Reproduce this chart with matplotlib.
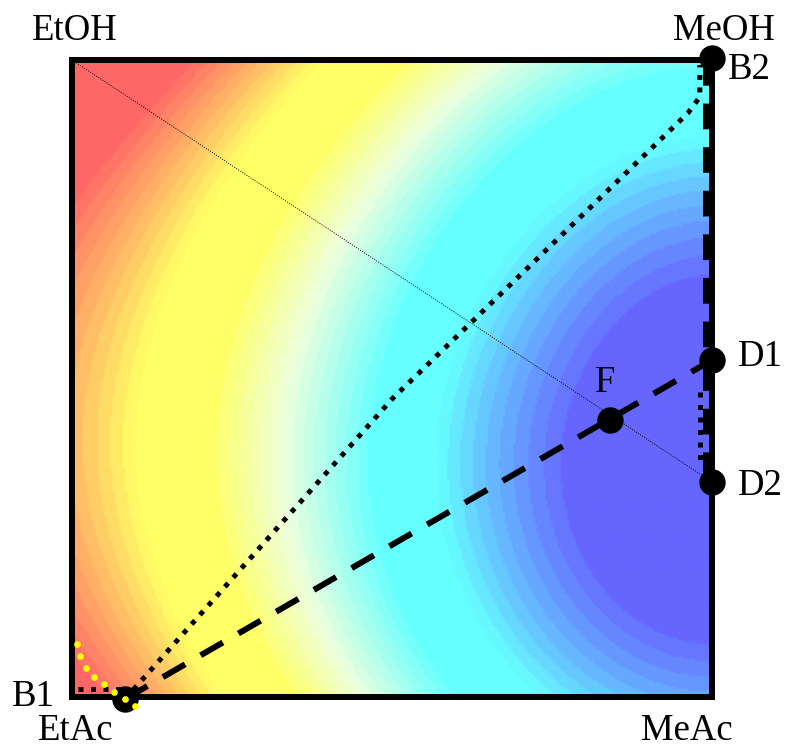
#!/usr/bin/env python3
import numpy as np
import matplotlib
matplotlib.use("Agg")
import matplotlib.pyplot as plt
from matplotlib.colors import LinearSegmentedColormap

# background level, 7x7 grid
# rows: top (alcohols) -> bottom (acetates), cols: left (Et) -> right (Me)
field_rows = [
    [1.15, 0.97, 0.82, 0.72, 0.45, 0.33, 0.33],
    [1.02, 0.84, 0.75, 0.55, 0.30, 0.25, 0.22],
    [0.92, 0.77, 0.60, 0.33, 0.25, 0.15, 0.03],
    [0.85, 0.75, 0.40, 0.25, 0.07, -0.10, -0.10],
    [0.86, 0.76, 0.48, 0.27, 0.15, -0.05, -0.10],
    [0.93, 0.78, 0.60, 0.30, 0.22, 0.10, 0.00],
    [1.03, 0.82, 0.64, 0.40, 0.27, 0.15, 0.05],
]
level_stops = [0.0, 0.2, 0.32, 0.5, 0.64, 0.78, 1.0]
level_colors = ["#6666ff", "#66ffff", "#66ffff", "#eeffdd", "#ffff66", "#ffff66", "#ff6666"]

corner_names = ["EtOH", "MeOH", "EtAc", "MeAc"]
corner_x = [0.005, 1.019, 0.006, 0.961]
corner_y = [1.031, 1.031, -0.068, -0.068]

point_names = ["B1", "B2", "D1", "D2", "F"]
point_x = [0.083, 1.0, 1.0, 1.0, 0.841]
point_y = [-0.003, 1.003, 0.529, 0.3375, 0.435]
label_x = [-0.061, 1.025, 1.041, 1.041, 0.833]
label_y = [-0.014, 0.970, 0.520, 0.317, 0.479]

# column profile (dotted) from B1 up to B2
profile_x = [0.083, 0.5016, 0.9625, 0.981, 0.981]
profile_y = [-0.003, 0.4694, 0.9168, 0.942, 0.992]

# short dotted pieces
b1_tail_x = [0.01, 0.083]
b1_tail_y = [0.0126, 0.0126]
d_tail_x = [0.981, 0.981]
d_tail_y = [0.479, 0.361]

# dashed right edge B2 -> D2
edge_x = [0.99, 0.99]
edge_y = [1.0, 0.3375]

# yellow dotted curve near B1
yellow_x = [0.0078, 0.0125, 0.0219, 0.0344, 0.05, 0.0656, 0.0828, 0.098]
yellow_y = [0.083, 0.064, 0.0455, 0.0314, 0.0204, 0.0078, -0.0031, -0.0141]


def smooth_field(rows, n=300, deg=3):
    """least-squares cubic surface through the grid readings"""
    grid = np.array(rows)
    k = grid.shape[0]
    u, v = np.meshgrid(np.linspace(0, 1, k), np.linspace(1, 0, k))
    terms = [(i, j) for i in range(deg + 1) for j in range(deg + 1 - i)]
    A = np.column_stack([u.ravel() ** i * v.ravel() ** j for i, j in terms])
    coef, *_ = np.linalg.lstsq(A, grid.ravel(), rcond=None)
    uu, vv = np.meshgrid(np.linspace(0, 1, n), np.linspace(1, 0, n))
    out = np.zeros_like(uu)
    for c, (i, j) in zip(coef, terms):
        out += c * uu ** i * vv ** j
    return out


def main():
    fig = plt.figure(figsize=(7.87, 7.49), dpi=100)
    ax = fig.add_axes([72 / 787, 52 / 749, 640 / 787, 637 / 749])

    cmap = LinearSegmentedColormap.from_list("bg", list(zip(level_stops, level_colors)), N=48)
    ax.imshow(smooth_field(field_rows), cmap=cmap, vmin=0, vmax=1,
              interpolation="bilinear", extent=(0, 1, 0, 1), origin="upper",
              aspect="auto", zorder=0)
    ax.set_xlim(0, 1)
    ax.set_ylim(0, 1)
    ax.set_xticks([])
    ax.set_yticks([])
    for sp in ax.spines.values():
        sp.set_linewidth(4.3)
        sp.set_color("black")

    # thin feed line EtOH -> D2
    ax.plot([0, point_x[3]], [1, point_y[3]], color="black", lw=0.7,
            linestyle=(0, (1, 1.5)), zorder=2)
    # dashed B1 -> F -> D1
    ax.plot([point_x[0], point_x[2]], [point_y[0], point_y[2]], color="black",
            lw=4.3, linestyle=(0, (4.3, 3.0)), zorder=3)
    ax.plot(edge_x, edge_y, color="black", lw=4.3, linestyle=(0, (4.3, 3.0)), zorder=3)

    dot = (0, (1, 1.5))
    ax.plot(profile_x, profile_y, color="black", lw=3.6, linestyle=dot, zorder=3)
    ax.plot(b1_tail_x, b1_tail_y, color="black", lw=3.6, linestyle=dot, zorder=3)
    ax.plot(d_tail_x, d_tail_y, color="black", lw=3.6, linestyle=dot, zorder=3)

    ax.plot(point_x, point_y, "o", color="black", markersize=18,
            linestyle="none", clip_on=False, zorder=5)
    ax.plot(yellow_x, yellow_y, "o", color="#ffff00", markersize=3.8,
            linestyle="none", clip_on=False, zorder=6)

    font = dict(family="Liberation Serif", fontsize=26.5, color="black")
    for name, x, y in zip(corner_names, corner_x, corner_y):
        ax.text(x, y, name, ha="center", va="baseline", clip_on=False, **font)
    for i, name in enumerate(point_names):
        ha = "center" if name in ("B1", "F") else "left"
        ax.text(label_x[i], label_y[i], name, ha=ha, va="baseline",
                clip_on=False, **font)

    fig.savefig("out.png", dpi=100)


if __name__ == "__main__":
    main()
